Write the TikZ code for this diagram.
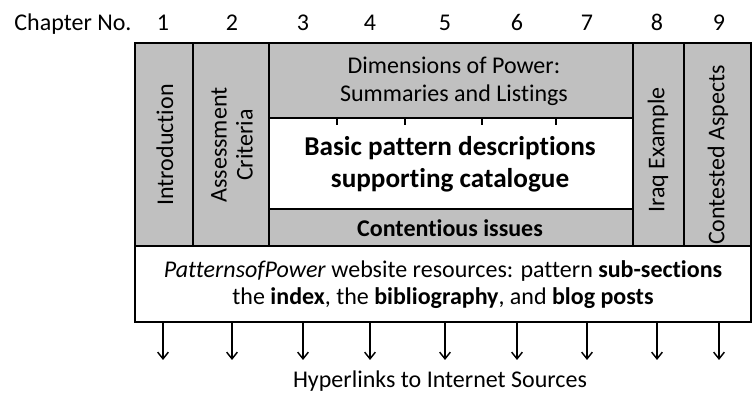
\documentclass[tikz,border=0pt]{standalone}
\usepackage{fontspec}
\setmainfont{Carlito}[Ligatures=NoCommon, Numbers=Lining]
\usepackage{tikz}
\usetikzlibrary{arrows.meta}
\definecolor{boxgrey}{RGB}{192,192,192}
\tikzset{greybox/.style={draw, line width=2.2pt, fill=boxgrey},
  whitebox/.style={draw, line width=2.2pt, fill=white},
  bodytext/.style={font=\fontsize{18}{21}\selectfont, align=center, inner sep=0pt},
  boldtext/.style={font=\fontsize{20.4}{24}\selectfont\bfseries, align=center, inner sep=0pt},
  sidetext/.style={bodytext, font=\fontsize{18}{19.5}\selectfont, rotate=90},
  headtext/.style={bodytext, anchor=base},
  linkarrow/.style={line width=1.1pt, -{Straight Barb[length=5pt, width=8pt, line width=1.1pt]}}
}

\begin{document}
\begin{tikzpicture}[x=0.75pt, y=-0.75pt]
\useasboundingbox (0,0) rectangle (753,409);

%columns
\draw[greybox] (135,43) rectangle (193,246);
\draw[greybox] (193,43) rectangle (269,246);
\draw[greybox] (633,43) rectangle (684,246);
\draw[greybox] (684,43) rectangle (751,246);

%middle block
\draw[greybox] (269,43) rectangle (633,118);
\draw[whitebox] (269,118) rectangle (633,209);
\draw[greybox] (269,209) rectangle (633,246);
\foreach \x in {337,405,482,556}
  \draw[line width=1.5pt] (\x,118) -- (\x,125);

%website box
\node[whitebox, minimum width=462pt, minimum height=57pt, inner sep=0pt] (web) at (443,284) {};
\node[bodytext, font=\fontsize{18}{20.25}\selectfont] (webtext) at (443,285)
  {\textit{PatternsofPower} website resources: pattern \textbf{sub-sections}\\
   the \textbf{index}, the \textbf{bibliography}, and \textbf{blog posts}};

%texts
\node[sidetext] (intro) at (165,145) {Introduction};
\node[sidetext] (assess) at (232,145) {Assessment\\Criteria};
\node[sidetext] (iraq) at (658,150) {Iraq Example};
\node[sidetext] (contest) at (718,155) {Contested Aspects};
\node[bodytext] (dims) at (454,81) {Dimensions of Power:\\Summaries and Listings};
\node[boldtext] (basic) at (450,164) {Basic pattern descriptions\\supporting catalogue};
\node[bodytext, font=\fontsize{18}{21}\selectfont\bfseries] (issues) at (450,228) {Contentious issues};

%chapter numbers and links
\node[headtext] (chno) at (73,31) {Chapter No.};
\foreach \i/\x in {1/163,2/232,3/303,4/370,5/445,6/517,7/587,8/657,9/719}{
  \node[headtext] (ch\i) at (\x,31) {\i};
  \coordinate (end\i) at (\x,360);
  \draw[linkarrow] (ch\i |- web.south) -- (end\i);
}
\node[bodytext] (links) at (440,381) {Hyperlinks to Internet Sources};

\end{tikzpicture}
\end{document}
